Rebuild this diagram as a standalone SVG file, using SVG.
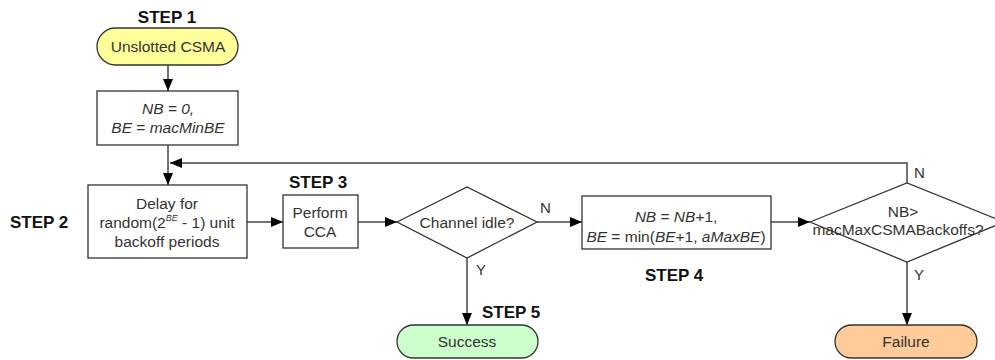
<svg xmlns="http://www.w3.org/2000/svg" width="995" height="360" viewBox="0 0 995 360">
<defs>
<marker id="ah" markerWidth="12" markerHeight="10" refX="12" refY="5" orient="auto" markerUnits="userSpaceOnUse">
<path d="M0,0 L12,5 L0,10 Z" fill="#000"/>
</marker>
<style>
.box{fill:#fff;stroke:#333;stroke-width:1.3}
.t{font-family:"Liberation Sans",Arial,sans-serif;font-size:15.5px;fill:#333;text-anchor:middle}
.s{font-family:"Liberation Sans",Arial,sans-serif;font-size:17px;font-weight:bold;fill:#111}
.l{font-family:"Liberation Sans",Arial,sans-serif;font-size:15px;fill:#333}
.c{fill:none;stroke:#444;stroke-width:1.5}
</style>
</defs>
<rect width="995" height="360" fill="#fff"/>
<text class="s" x="167" y="23" text-anchor="middle">STEP 1</text>
<text class="s" x="10" y="228">STEP 2</text>
<text class="s" x="289" y="188">STEP 3</text>
<text class="s" x="645" y="281">STEP 4</text>
<text class="s" x="482" y="318">STEP 5</text>
<g id="connectors">
<line class="c" x1="168" y1="65" x2="168" y2="91" marker-end="url(#ah)"/>
<line class="c" x1="168" y1="145" x2="168" y2="185" marker-end="url(#ah)"/>
<polyline class="c" points="907,183 907,163 170,163" marker-end="url(#ah)"/>
<line class="c" x1="247" y1="222" x2="283" y2="222" marker-end="url(#ah)"/>
<line class="c" x1="358" y1="222" x2="397" y2="222" marker-end="url(#ah)"/>
<line class="c" x1="537" y1="222" x2="582" y2="222" marker-end="url(#ah)"/>
<line class="c" x1="771" y1="222" x2="810" y2="222" marker-end="url(#ah)"/>
<line class="c" x1="467" y1="258" x2="467" y2="325" marker-end="url(#ah)"/>
<line class="c" x1="907" y1="262" x2="907" y2="325" marker-end="url(#ah)"/>
<text class="l" x="540" y="213">N</text>
<text class="l" x="914" y="178">N</text>
<text class="l" x="476" y="275">Y</text>
<text class="l" x="914" y="280">Y</text>
</g>
<g id="start">
<rect x="97" y="28" width="141" height="37" rx="18.5" fill="#ffff99" stroke="#333" stroke-width="1.3"/>
<text class="t" x="168" y="52">Unslotted CSMA</text>
</g>
<g id="init">
<rect class="box" x="97" y="91" width="141" height="54"/>
<text class="t" x="168" y="114" font-style="italic">NB = 0,</text>
<text class="t" x="168" y="133"><tspan font-style="italic">BE</tspan> = <tspan font-style="italic">macMinBE</tspan></text>
</g>
<g id="delay">
<rect class="box" x="88" y="185" width="159" height="73"/>
<text class="t" x="167" y="209">Delay for</text>
<text class="t" x="167" y="228">random(2<tspan font-size="9" dy="-7" font-style="italic">BE</tspan><tspan dy="7"> - 1) unit</tspan></text>
<text class="t" x="167" y="247">backoff periods</text>
</g>
<g id="cca">
<rect class="box" x="283" y="195" width="75" height="53"/>
<text class="t" x="320" y="218">Perform</text>
<text class="t" x="320" y="237">CCA</text>
</g>
<g id="idle">
<polygon class="box" points="397,222 467,187 537,222 467,258"/>
<text class="t" x="467" y="228">Channel idle?</text>
</g>
<g id="update">
<rect class="box" x="582" y="196" width="189" height="53"/>
<text class="t" x="676" y="222"><tspan font-style="italic">NB</tspan> = <tspan font-style="italic">NB</tspan>+1,</text>
<text class="t" x="676" y="242"><tspan font-style="italic">BE</tspan> = min(<tspan font-style="italic">BE</tspan>+1, <tspan font-style="italic">aMaxBE</tspan>)</text>
</g>
<g id="maxcheck">
<polygon class="box" points="810,222 907,183 1004,222 907,262"/>
<text class="t" x="903" y="217" font-size="12">NB&gt;</text>
<text class="t" x="898" y="235" font-size="12">macMaxCSMABackoffs?</text>
</g>
<g id="success">
<rect x="397" y="325" width="141" height="33" rx="16.5" fill="#ccffcc" stroke="#333" stroke-width="1.3"/>
<text class="t" x="467" y="347">Success</text>
</g>
<g id="failure">
<rect x="835" y="325" width="142" height="33" rx="16.5" fill="#ffcc99" stroke="#333" stroke-width="1.3"/>
<text class="t" x="906" y="347">Failure</text>
</g>
</svg>
